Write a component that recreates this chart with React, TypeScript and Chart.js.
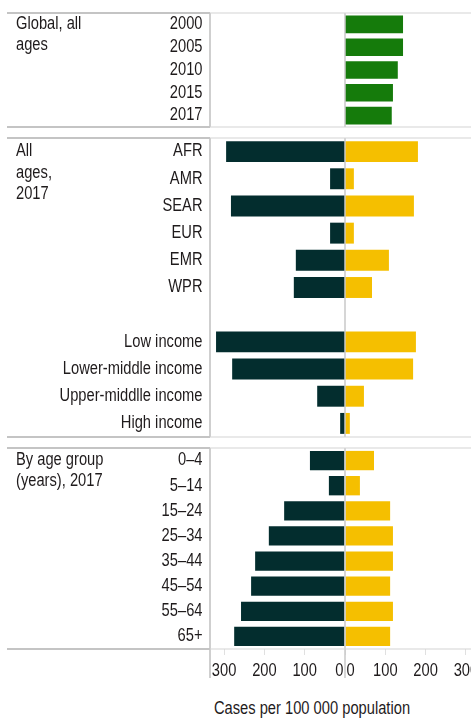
import React, { useEffect, useRef } from "react";
import { Chart, registerables } from "chart.js";

Chart.register(...registerables);

const FONT_FAMILY = '"Liberation Sans", Arial, sans-serif';
const FONT_SIZE = 17.5;
const CONDENSE = 0.84;
const TEXT_COLOR = "#1f1b1c";
const DARK = "#032d2e";
const YELLOW = "#f5bf00";
const GREEN = "#157b0b";

Chart.defaults.font.family = FONT_FAMILY;

// ---- data ----
const YEARS = ["2000", "2005", "2010", "2015", "2017"];
const GLOBAL_RATES = [144, 144, 131, 119, 116];

const REGION_INCOME = [
  "AFR", "AMR", "SEAR", "EUR", "EMR", "WPR", "",
  "Low income", "Lower-middle income", "Upper-middlle income", "High income",
];
const REGION_DARK = [295, 37, 283, 37, 122, 127, null, 320, 280, 69, 12];
const REGION_YELLOW = [181, 22, 171, 22, 109, 67, null, 176, 169, 47, 12];

const AGE_GROUPS = ["0–4", "5–14", "15–24", "25–34", "35–44", "45–54", "55–64", "65+"];
const AGE_DARK = [87, 40, 151, 189, 223, 233, 258, 275];
const AGE_YELLOW = [72, 37, 112, 119, 119, 112, 119, 112];

const X_TICKS = [-300, -200, -100, 0, 100, 200, 300];
const AXIS_TITLE = "Cases per 100 000 population";

const TITLE_GLOBAL = ["Global, all", "ages"];
const TITLE_REGION = ["All", "ages,", "2017"];
const TITLE_AGE = ["By age group", "(years), 2017"];

// ---- layout ----
const CANVAS_W = 482;
const PAD = 3;
const AXIS_H = 32;
const EXT = 29;

// narrow text rendering (condensed sans look)
const condensePlugin = {
  id: "condense",
  install(chart: any) {
    const ctx = chart.ctx;
    if (ctx.__condensed) return;
    const orig = ctx.fillText.bind(ctx);
    ctx.fillText = (t: string, x: number, y: number, mw?: number) => {
      const w = ctx.measureText(t).width * CONDENSE;
      orig(t, x, y, mw !== undefined ? Math.min(mw, w) : w);
    };
    ctx.__condensed = true;
  },
};

const decorPlugin = {
  id: "decor",
  afterDatasetsDraw(chart: any, _args: any, opts: any) {
    const { ctx, chartArea } = chart;
    const { left, top, bottom } = chartArea;
    const x0 = chart.scales.x.getPixelForValue(0);
    const ext = opts.extend || 0;
    ctx.save();
    ctx.strokeStyle = "#cfcfcf";
    ctx.lineWidth = 2;
    ctx.beginPath();
    ctx.moveTo(left, top);
    ctx.lineTo(left, bottom + ext);
    ctx.stroke();
    ctx.strokeStyle = "#c8c8c8";
    ctx.lineWidth = 1.5;
    ctx.beginPath();
    ctx.moveTo(x0, top);
    ctx.lineTo(x0, bottom + ext);
    ctx.stroke();
    [top, bottom].forEach((y: number) => {
      ctx.strokeStyle = "#c4c4c4";
      ctx.lineWidth = 2;
      ctx.beginPath();
      ctx.moveTo(7, y);
      ctx.lineTo(left, y);
      ctx.stroke();
      ctx.strokeStyle = "#d4d4d4";
      ctx.lineWidth = 1.2;
      ctx.beginPath();
      ctx.moveTo(left, y);
      ctx.lineTo(chart.width, y);
      ctx.stroke();
    });
    ctx.fillStyle = TEXT_COLOR;
    ctx.font = `${FONT_SIZE}px ${FONT_FAMILY}`;
    ctx.textAlign = "left";
    ctx.textBaseline = "middle";
    const y0 = chart.scales.y.getPixelForValue(0);
    (opts.title || []).forEach((line: string, i: number) => {
      ctx.fillText(line, 16, y0 + i * opts.lineHeight);
    });
    ctx.restore();
  },
};

type PanelProps = {
  top: number;
  height: number;
  labels: string[];
  datasets: any[];
  title: string[];
  lineHeight: number;
  withAxis?: boolean;
};

function Panel({ top, height, labels, datasets, title, lineHeight, withAxis }: PanelProps) {
  const ref = useRef<HTMLCanvasElement>(null);
  const canvasH = PAD + height + (withAxis ? AXIS_H : PAD);
  useEffect(() => {
    const font = { family: FONT_FAMILY, size: FONT_SIZE };
    const chart = new Chart(ref.current as HTMLCanvasElement, {
      type: "bar",
      data: { labels, datasets },
      options: {
        indexAxis: "y",
        responsive: false,
        animation: false,
        devicePixelRatio: 1,
        layout: { padding: { left: 7, right: 2, top: PAD, bottom: withAxis ? 0 : PAD } },
        plugins: {
          legend: { display: false },
          tooltip: { enabled: false },
          // @ts-ignore
          decor: { title, lineHeight, extend: withAxis ? EXT : 0 },
        },
        scales: {
          x: {
            type: "linear",
            min: -335,
            max: 335,
            stacked: true,
            display: !!withAxis,
            afterBuildTicks: (s: any) => {
              s.ticks = X_TICKS.map((v) => ({ value: v }));
            },
            afterFit: (s: any) => {
              s.height = withAxis ? AXIS_H : 0;
              s.paddingLeft = 0;
              s.paddingRight = 0;
            },
            grid: {
              display: true,
              drawOnChartArea: false,
              drawTicks: true,
              tickLength: 6,
              color: "#e0e0e0",
              lineWidth: 1,
            },
            border: { display: false },
            ticks: {
              padding: 6,
              autoSkip: false,
              maxRotation: 0,
              font,
              color: TEXT_COLOR,
              callback: (v: any) => (Number(v) === 0 ? "0\u20090" : String(Math.abs(Number(v)))),
            },
          },
          y: {
            type: "category",
            stacked: true,
            afterFit: (s: any) => {
              s.width = 203;
              s.paddingTop = 0;
              s.paddingBottom = 0;
            },
            grid: { display: false, drawTicks: false },
            border: { display: false },
            ticks: { padding: 7.5, autoSkip: false, font, color: TEXT_COLOR },
          },
        },
      } as any,
      plugins: [condensePlugin, decorPlugin],
    });
    return () => chart.destroy();
  }, []);
  return (
    <canvas
      ref={ref}
      width={CANVAS_W}
      height={canvasH}
      style={{ position: "absolute", left: 0, top: top - PAD, display: "block" }}
    />
  );
}

const barOpts = { barPercentage: 0.77, categoryPercentage: 1 };

export default function App() {
  return (
    <div
      style={{
        position: "fixed",
        left: 0,
        top: 0,
        width: 471,
        height: 718,
        overflow: "hidden",
        background: "#fff",
        fontFamily: FONT_FAMILY,
      }}
    >
      <Panel
        top={13}
        height={114}
        labels={YEARS}
        title={TITLE_GLOBAL}
        lineHeight={21}
        datasets={[{ data: GLOBAL_RATES, backgroundColor: GREEN, ...barOpts }]}
      />
      <Panel
        top={138}
        height={299}
        labels={REGION_INCOME}
        title={TITLE_REGION}
        lineHeight={21.5}
        datasets={[
          { data: REGION_DARK.map((v) => (v == null ? null : -v)), backgroundColor: DARK, ...barOpts },
          { data: REGION_YELLOW, backgroundColor: YELLOW, ...barOpts },
        ]}
      />
      <Panel
        top={448}
        height={201}
        labels={AGE_GROUPS}
        title={TITLE_AGE}
        lineHeight={20.5}
        withAxis
        datasets={[
          { data: AGE_DARK.map((v) => -v), backgroundColor: DARK, ...barOpts },
          { data: AGE_YELLOW, backgroundColor: YELLOW, ...barOpts },
        ]}
      />
      <div
        style={{
          position: "absolute",
          left: 312,
          top: 698,
          transform: `translateX(-50%) scaleX(${CONDENSE})`,
          whiteSpace: "nowrap",
          fontSize: FONT_SIZE,
          lineHeight: "20px",
          color: TEXT_COLOR,
        }}
      >
        {AXIS_TITLE}
      </div>
    </div>
  );
}
